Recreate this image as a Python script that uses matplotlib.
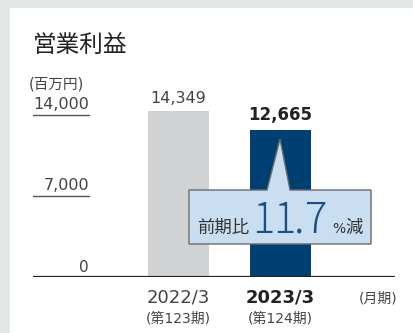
import matplotlib
matplotlib.use('Agg')
import matplotlib.pyplot as plt
from matplotlib.patches import Rectangle, Polygon

# 英数字はDejaVu、漢字はNoto CJK
plt.rcParams['font.family'] = ['DejaVu Sans', 'Noto Sans CJK JP']
CJK = ['Noto Sans CJK JP', 'DejaVu Sans']

# データ
periods = ['2022/3', '2023/3']
terms = ['(第123期)', '(第124期)']
profit = [14349, 12665]
bar_colors = ['#d1d2d4', '#003f72']
yticks = [14000, 7000]
change_pct = 11.7

W, H = 414, 333
fig = plt.figure(figsize=(W / 100, H / 100), dpi=100)
fig.patch.set_facecolor('#e4e7e8')

# 背景の白いパネル
bg = fig.add_axes([0, 0, 1, 1], zorder=-1)
bg.set_xlim(0, W)
bg.set_ylim(H, 0)
bg.axis('off')
bg.add_patch(Rectangle((10, 8), W - 10, H - 8, facecolor='white', edgecolor='none'))

# 棒グラフ本体（ピクセル位置からaxesを配置）
x0, x1, ybase = 33, 395, 277
ymax = 15000
px_per_unit = 166 / 14349
top = ybase - ymax * px_per_unit
ax = fig.add_axes([x0 / W, (H - ybase) / H, (x1 - x0) / W, (ybase - top) / H],
                  facecolor='none')
ax.set_xlim(-1.426, 2.123)
ax.set_ylim(0, ymax)
ax.axis('off')

ax.bar(range(len(profit)), profit, width=0.6, color=bar_colors, zorder=2)
ax.axhline(0, color='#222222', lw=1.6, zorder=3)

# 目盛り（短い下線付き）
tick_frac = (89 - 33) / (x1 - x0)
for v in yticks:
    ax.plot([0, tick_frac], [v, v], transform=ax.get_yaxis_transform(),
            color='#555555', lw=1.0)
    ax.text(tick_frac, v + 250, f'{v:,}', transform=ax.get_yaxis_transform(),
            ha='right', va='bottom', fontsize=11.5, color='#444444')
ax.text(0.153, 200, '0', transform=ax.get_yaxis_transform(),
        ha='right', va='bottom', fontsize=11, color='#444444')

# 値ラベル
ax.text(0, profit[0] + 450, f'{profit[0]:,}', ha='center', va='bottom',
        fontsize=11.5, color='#444444')
ax.text(1, profit[1] + 600, f'{profit[1]:,}', ha='center', va='bottom',
        fontsize=12, fontweight='bold', color='#222222')

# 注記用のオーバーレイ（ピクセル座標）
ov = fig.add_axes([0, 0, 1, 1], facecolor='none')
ov.set_xlim(0, W)
ov.set_ylim(H, 0)
ov.axis('off')

ov.text(33, 45, '営業利益', ha='left', va='center', fontsize=17,
        family=CJK, color='#222222')
ov.text(29, 84, '(百万円)', ha='left', va='center', fontsize=10.5, color='#444444')

# 吹き出し
callout = [(189, 190), (267, 190), (280, 139), (290, 190), (371, 190),
           (371, 244), (189, 244)]
ov.add_patch(Polygon(callout, closed=True, facecolor='#c9dff1',
                     edgecolor='#6b6b6b', lw=1.0, zorder=5))
ov.text(197, 228, '前期比', ha='left', va='center', fontsize=12.5,
        family=CJK, color='#333333', zorder=6)
# 大きい数字は字間を広げて一文字ずつ配置
big_x = [252, 273, 294, 305]
for ch, bx in zip(f'{change_pct}', big_x):
    ov.text(bx, 233, ch, ha='left', va='baseline', fontsize=30,
            family=CJK, fontweight='light', color='#1d4f86', zorder=6)
ov.text(332, 229, '%', ha='left', va='center', fontsize=10,
        color='#333333', zorder=6)
ov.text(345, 228, '減', ha='left', va='center', fontsize=12.5,
        family=CJK, color='#333333', zorder=6)

# 横軸ラベル
xc = [178.5, 280.5]
for i, (p, t) in enumerate(zip(periods, terms)):
    bold = i == len(periods) - 1
    ov.text(xc[i], 298, p, ha='center', va='center', fontsize=13,
            fontweight='bold' if bold else 'normal',
            color='#222222' if bold else '#444444')
    ov.text(xc[i], 318, t, ha='center', va='center', fontsize=10,
            color='#444444')
ov.text(378, 298, '(月期)', ha='center', va='center', fontsize=10,
        color='#444444')

fig.savefig('out.png', dpi=100, facecolor=fig.get_facecolor())
